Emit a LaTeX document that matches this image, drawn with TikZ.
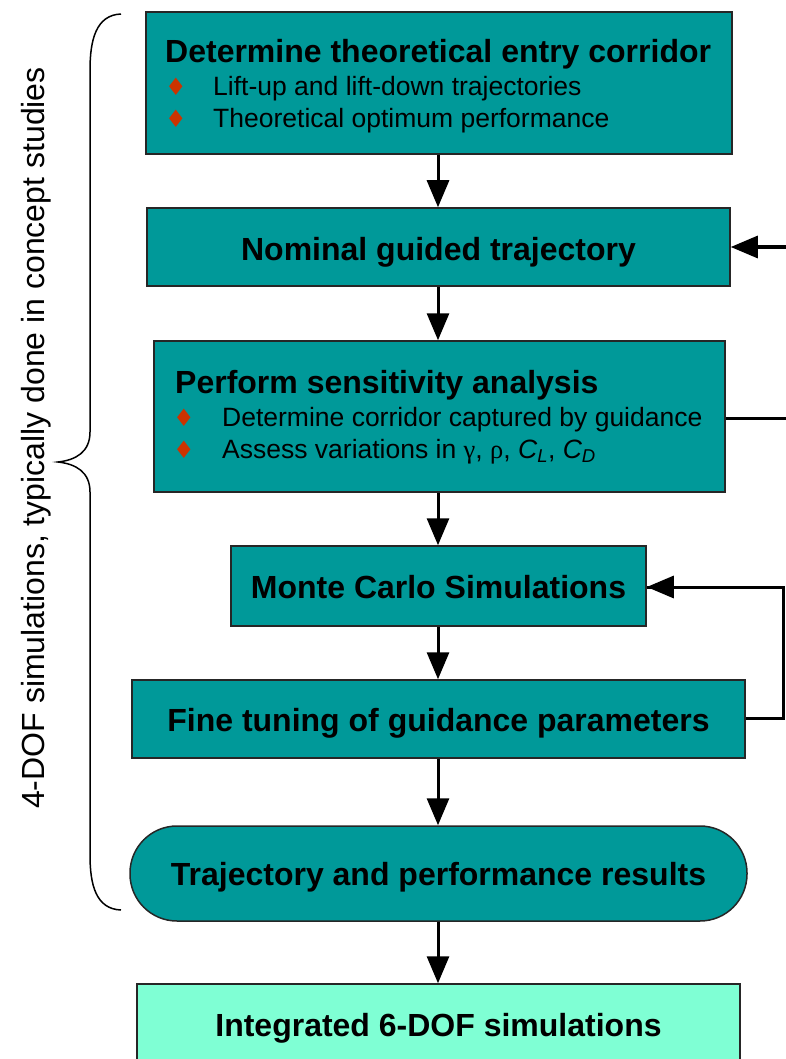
\documentclass[tikz,border=0pt]{standalone}
\usepackage{fontspec}
\setmainfont{Liberation Sans}
\newfontfamily\symfont{DejaVu Sans}
\newfontfamily\grkfont{Liberation Serif}
\usetikzlibrary{arrows.meta}
\definecolor{teal1}{RGB}{0,153,153}
\definecolor{aqua1}{RGB}{127,255,212}
\definecolor{bulred}{RGB}{204,51,0}
\tikzset{
  box/.style={draw=black!85, line width=1.5pt, fill=teal1, inner sep=0pt},
  lastbox/.style={draw=black!85, line width=1.5pt, fill=aqua1, inner sep=0pt},
  arr/.style={line width=3pt, -{Triangle[length=27pt,width=22pt]}},
  fb/.style={line width=3pt},
  ttl/.style={font=\fontsize{32}{36}\selectfont\bfseries, inner sep=0pt, anchor=base},
  txt/.style={font=\fontsize{26.5}{30}\selectfont, inner sep=0pt, anchor=base west},
  bul/.style={font=\fontsize{24}{28}\selectfont\symfont, text=bulred, inner sep=0pt, anchor=base},
  side/.style={font=\fontsize{32}{36}\selectfont, inner sep=0pt, rotate=90}
}
\begin{document}
\begin{tikzpicture}[x=1pt,y=-1pt]
\useasboundingbox (0,0) rectangle (785,1059);
% boxes
\node[box, minimum width=586pt, minimum height=142pt] (b1) at (439,83) {};
\node[box, minimum width=583pt, minimum height=78pt] (b2) at (438.5,247) {};
\node[box, minimum width=571pt, minimum height=151pt] (b3) at (439.5,416.5) {};
\node[box, minimum width=415pt, minimum height=80pt] (b4) at (438.5,586) {};
\node[box, minimum width=613pt, minimum height=78pt] (b5) at (438.5,719) {};
\node[box, rounded corners=47pt, minimum width=617pt, minimum height=95pt] (b6) at (438.5,873.5) {};
\node[lastbox, minimum width=603pt, minimum height=100pt] (b7) at (438.5,1034) {};
% texts box1
\node[ttl, anchor=base west] (t1) at (165,63) {Determine theoretical entry corridor};
\node[bul] (d1a) at (176,96) {♦};
\node[txt] (t1a) at (213,96) {Lift-up and lift-down trajectories};
\node[bul] (d1b) at (176,128) {♦};
\node[txt] (t1b) at (213,128) {Theoretical optimum performance};
% box2
\node[ttl] (t2) at (438.5,260) {Nominal guided trajectory};
% box3
\node[ttl, anchor=base west] (t3) at (175,393) {Perform sensitivity analysis};
\node[bul] (d3a) at (184,426) {♦};
\node[txt] (t3a) at (222,426) {Determine corridor captured by guidance};
\node[bul] (d3b) at (184,458) {♦};
\node[txt] (t3b) at (222,458) {Assess variations in {\grkfont γ}, {\grkfont ρ}, \textit{C\textsubscript{L}}, \textit{C\textsubscript{D}}};
% others
\node[ttl] (t4) at (438.5,598) {Monte Carlo Simulations};
\node[ttl] (t5) at (438.5,731) {Fine tuning of guidance parameters};
\node[ttl] (t6) at (438.5,885) {Trajectory and performance results};
\node[ttl] (t7) at (438.5,1036) {Integrated 6-DOF simulations};
% arrows
\coordinate (ax) at (438,0);
\draw[arr] (ax |- b1.south) -- (ax |- b2.north);
\draw[arr] (ax |- b2.south) -- (ax |- b3.north);
\draw[arr] (ax |- b3.south) -- (ax |- b4.north);
\draw[arr] (ax |- b4.south) -- (ax |- b5.north);
\draw[arr] (ax |- b5.south) -- (ax |- b6.north);
\draw[arr] (ax |- b6.south) -- (ax |- b7.north);
% feedback 1
\coordinate (fx1) at (800,0);
\draw[fb] (b3.east |- 0,418) -- (fx1 |- 0,418) -- (fx1 |- b2.east);
\draw[arr] (fx1 |- b2.east) -- (b2.east);
% feedback 2
\coordinate (fx2) at (783,0);
\draw[fb, line join=miter] (b5.east |- 0,718) -- (fx2 |- 0,718) -- (fx2 |- 0,587) -- (b4.east |- 0,587);
\draw[arr] (fx2 |- 0,587) -- (b4.east |- 0,587);
% brace
\draw[line width=1.5pt] (121,14) .. controls (96,15) and (90,40) .. (90,70) -- (90,432)
  .. controls (90,452) and (76,460) .. (58,462)
  .. controls (76,464) and (90,472) .. (90,492) -- (90,855)
  .. controls (90,885) and (96,909) .. (121,910);
\node[side] (st) at (36,438) {4-DOF simulations, typically done in concept studies};
\end{tikzpicture}
\end{document}
